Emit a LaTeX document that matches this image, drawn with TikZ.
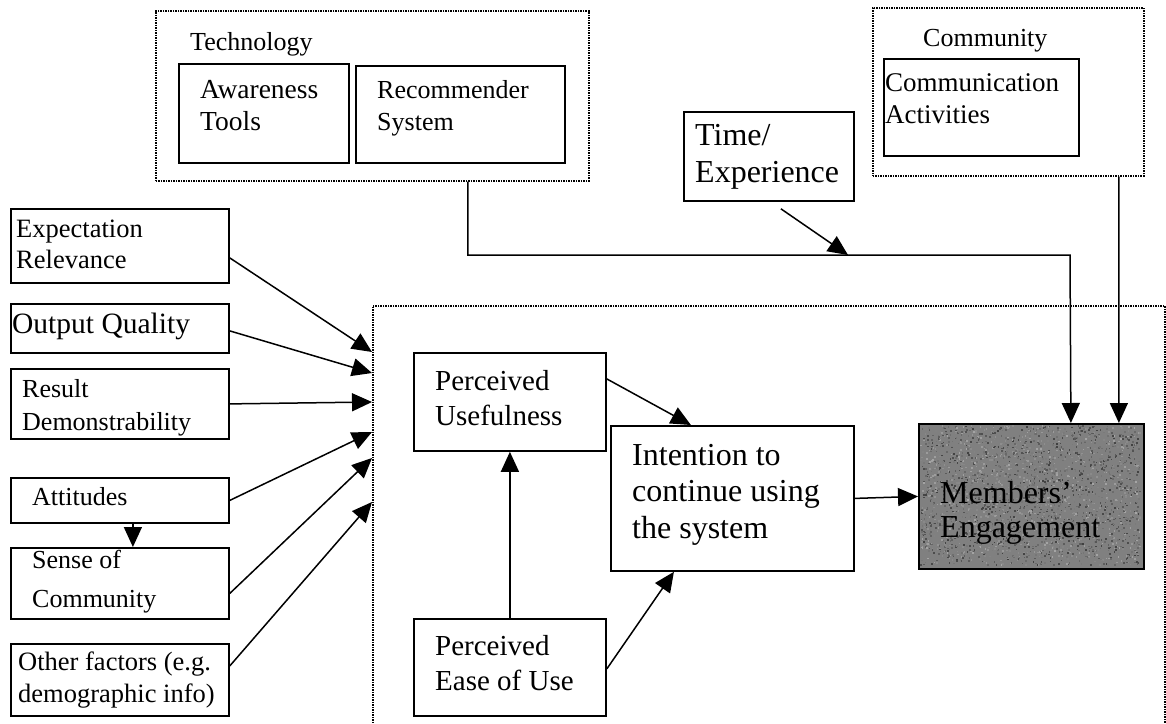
\documentclass[tikz,border=0pt]{standalone}
\usepackage{fontspec}
\setmainfont{Liberation Serif}
\usetikzlibrary{arrows.meta,calc}

\tikzset{
  box/.style={draw, line width=1.8pt, anchor=north west, inner sep=0pt},
  group/.style={draw, line width=1.6pt, dash pattern=on 1.4pt off 1.1pt,
                anchor=north west, inner sep=0pt},
  lbl/.style={anchor=base west, inner sep=0pt, align=flush left, text width=260pt},
  link/.style={line width=1.5pt, -{Triangle[length=20pt,width=18pt]}},
}
\newcommand{\fs}[2]{\fontsize{#1}{#2}\selectfont}

\begin{document}
\begin{tikzpicture}[x=1pt,y=-1pt]
\useasboundingbox (0,0) rectangle (1166,723);

% grouping frames
\node[group, minimum width=433pt, minimum height=170pt] (tech) at (155,10) {};
\node[group, minimum width=271pt, minimum height=168pt] (community) at (872,7) {};
\node[group, minimum width=792pt, minimum height=440pt] (main) at (372,305) {};

% technology and community factors
\node[box, minimum width=170pt, minimum height=99pt] (aware) at (178,63) {};
\node[box, minimum width=209pt, minimum height=97pt] (recsys) at (355,65) {};
\node[box, minimum width=195pt, minimum height=97pt] (comm) at (883,58) {};
\node[box, minimum width=170pt, minimum height=89pt] (time) at (683,111) {};

% external variables
\node[box, minimum width=218pt, minimum height=74pt] (expect) at (10,208) {};
\node[box, minimum width=218pt, minimum height=49pt] (output) at (10,303) {};
\node[box, minimum width=218pt, minimum height=70pt] (result) at (10,368) {};
\node[box, minimum width=218pt, minimum height=45pt] (attitudes) at (10,477) {};
\node[box, minimum width=218pt, minimum height=71pt] (sense) at (10,547) {};
\node[box, minimum width=218pt, minimum height=72pt] (other) at (10,643) {};

% core model
\node[box, minimum width=192pt, minimum height=98pt] (pu) at (413,352) {};
\node[box, minimum width=192pt, minimum height=97pt] (peou) at (413,618) {};
\node[box, minimum width=243pt, minimum height=145pt] (intent) at (610,425) {};
\node[box, fill={rgb,255:red,128;green,128;blue,128}, minimum width=225pt, minimum height=145pt] (members) at (918,423) {};

% grainy shading of the outcome box
\pgfmathsetseed{11}
\foreach \i in {1,...,2600}{
  \pgfmathsetmacro{\px}{920+219.5*rnd}
  \pgfmathsetmacro{\py}{425+139.5*rnd}
  \pgfmathsetmacro{\g}{35+40*rnd}
  \fill[black!\g] (\px,\py) rectangle ++(1.6,1.6);
}

% labels
\node[lbl, font=\fs{26}{31}] at (190,50) {Technology};
\node[lbl, font=\fs{27.5}{32}] at (200,98) {Awareness\\Tools};
\node[lbl, font=\fs{26}{32}] at (377,98) {Recommender\\System};
\node[lbl, font=\fs{26}{31}] at (923,46) {Community};
\node[lbl, font=\fs{27}{32}] at (885,91) {Communication\\Activities};
\node[lbl, font=\fs{32}{37}] at (695,145) {Time/\\Experience};

\node[lbl, font=\fs{26.5}{31}] at (16,237) {Expectation\\Relevance};
\node[lbl, font=\fs{29.5}{33}] at (12,333) {Output Quality};
\node[lbl, font=\fs{26}{33}] at (22,397) {Result\\Demonstrability};
\node[lbl, font=\fs{26}{32}] at (32,505) {Attitudes};
\node[lbl, font=\fs{26}{39}] at (32,568) {Sense of\\Community};
\node[lbl, font=\fs{26.5}{32}] at (18,670) {Other factors (e.g.\\demographic info)};

\node[lbl, font=\fs{29}{35}] at (435,390) {Perceived\\Usefulness};
\node[lbl, font=\fs{29}{35}] at (435,655) {Perceived\\Ease of Use};
\node[lbl, font=\fs{32}{36.5}] at (632,465) {Intention to\\continue using\\the system};
\node[lbl, font=\fs{32}{34}] at (940,503) {Members’\\Engagement};

% connectors from the external variables
\draw[link] ([yshift=-12pt]expect.east) -- ([yshift=-47pt]main.north west);
\draw[link] ([yshift=-2.5pt]output.east) -- ([yshift=-68pt]main.north west);
\draw[link] (result.east) -- ([yshift=-97pt]main.north west);
\draw[link] (attitudes.east) -- ([yshift=-127pt]main.north west);
\draw[link] ([yshift=-10pt]sense.east) -- ([yshift=-153pt]main.north west);
\draw[link] ([yshift=14pt]other.east) -- ([yshift=-197pt]main.north west);
\draw[link] ([xshift=13pt]attitudes.south) -- ([xshift=13pt]sense.north);

% core relations
\draw[link] ([yshift=23pt]pu.east) -- ([xshift=-41.5pt]intent.north);
\draw[link] (peou.north) -- (pu.south);
\draw[link] ([yshift=-1.5pt]peou.east) -- ([xshift=-58.5pt]intent.south);
\draw[link] (intent.east) -- (members.west);

% moderating influences
\coordinate (corner) at (1070,255);
\coordinate (tick) at (848,255);
\draw[link] ([xshift=95.5pt]tech.south) |- (corner) -- ([xshift=39.5pt]members.north);
\draw[link] ([xshift=12pt,yshift=-7pt]time.south) -- (tick);
\draw[link] ([xshift=110.5pt]community.south) -- ([xshift=87.5pt]members.north);
\end{tikzpicture}
\end{document}
